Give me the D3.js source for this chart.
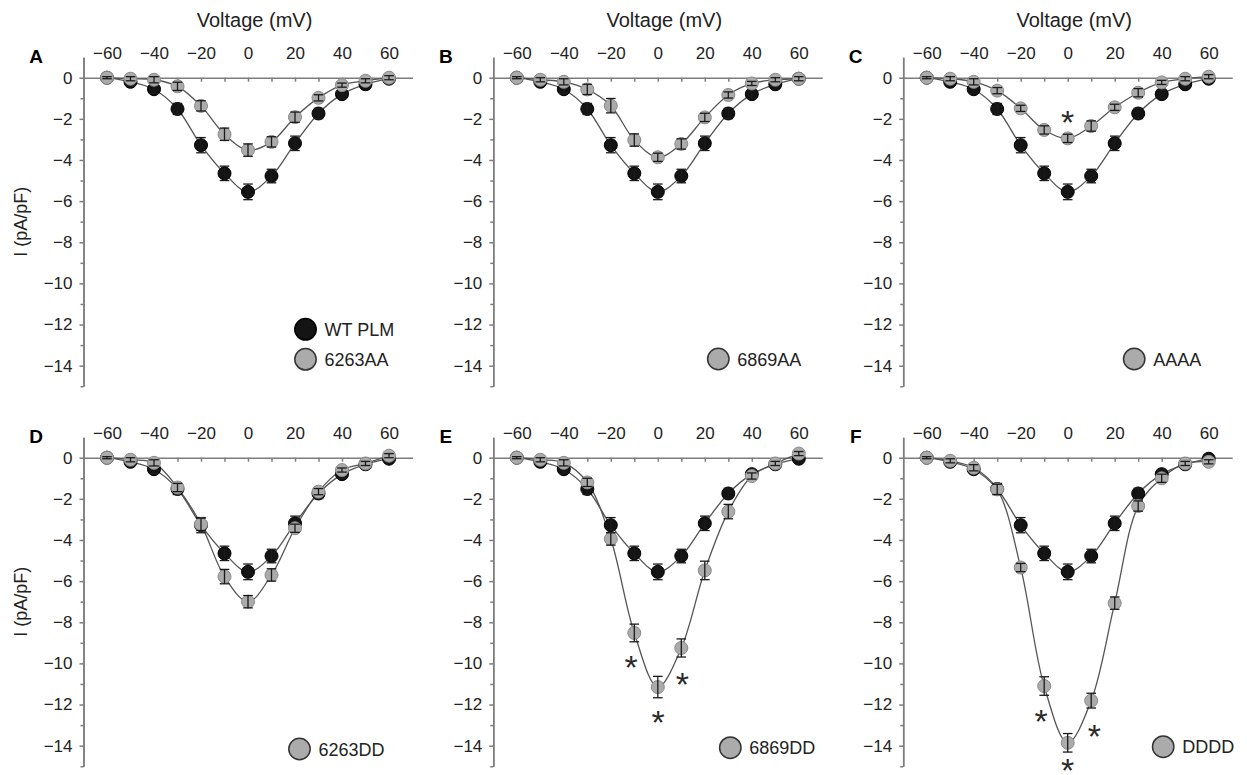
<!DOCTYPE html>
<html>
<head>
<meta charset="utf-8">
<script src="https://cdn.jsdelivr.net/npm/d3@7"></script>
<style>
body{margin:0;background:#fff;}
svg{display:block;font-family:"Liberation Sans",Arial,Helvetica,sans-serif;}
</style>
</head>
<body>
<svg id="chart" width="1247" height="775"></svg>
<script>
// test potentials (mV)
const voltage = [-60,-50,-40,-30,-20,-10,0,10,20,30,40,50,60];

// current density (pA/pF), mean and SEM
const wtPLM  = [0,-0.2,-0.56,-1.52,-3.28,-4.65,-5.55,-4.78,-3.19,-1.74,-0.8,-0.32,-0.05];
const wtErr  = [0.05,0.1,0.2,0.27,0.37,0.35,0.38,0.33,0.35,0.25,0.2,0.1,0.1];

const aa6263 = [0,-0.05,-0.1,-0.42,-1.37,-2.75,-3.52,-3.12,-1.92,-0.98,-0.36,-0.15,0];
const aa6263Err = [0.05,0.1,0.15,0.2,0.25,0.3,0.3,0.25,0.25,0.15,0.1,0.1,0.1];

const aa6869 = [0,-0.1,-0.2,-0.57,-1.36,-3.03,-3.87,-3.22,-1.93,-0.84,-0.28,-0.1,-0.05];
const aa6869Err = [0.05,0.1,0.15,0.25,0.35,0.3,0.2,0.25,0.2,0.15,0.1,0.1,0.1];

const aaaa = [0,-0.05,-0.2,-0.63,-1.49,-2.54,-2.95,-2.35,-1.44,-0.73,-0.23,-0.05,0.05];
const aaaaErr = [0.05,0.1,0.15,0.15,0.15,0.2,0.2,0.25,0.15,0.2,0.1,0.1,0.1];

const dd6263 = [0,-0.1,-0.25,-1.45,-3.24,-5.78,-7.0,-5.7,-3.43,-1.65,-0.6,-0.28,0.1];
const dd6263Err = [0.05,0.1,0.15,0.2,0.3,0.35,0.3,0.3,0.2,0.15,0.1,0.1,0.1];

const dd6869 = [0,-0.1,-0.25,-1.2,-3.95,-8.52,-11.15,-9.25,-5.48,-2.62,-0.89,-0.28,0.2];
const dd6869Err = [0.05,0.1,0.15,0.2,0.3,0.43,0.52,0.44,0.45,0.35,0.15,0.1,0.1];

const dddd = [0,-0.15,-0.49,-1.54,-5.34,-11.1,-13.86,-11.81,-7.07,-2.35,-1.0,-0.28,-0.2];
const ddddErr = [0.05,0.1,0.15,0.25,0.2,0.45,0.45,0.36,0.3,0.25,0.2,0.1,0.1];

// significance marks [mV, pA/pF]
const starsC = [[0,-1.86]];
const starsE = [[-11.4,-9.9],[0.1,-12.55],[10.5,-10.7]];
const starsF = [[-11.3,-12.5],[0,-14.88],[11.4,-13.25]];

const xTicks = [-60,-40,-20,0,20,40,60];
const yTicks = [0,-2,-4,-6,-8,-10,-12,-14];

const panels = [
    {letter:'A', col:0, row:0, name:'6263AA', values:aa6263, err:aa6263Err, stars:[], legend:[222,281.6], wtLegend:true},
    {letter:'B', col:1, row:0, name:'6869AA', values:aa6869, err:aa6869Err, stars:[], legend:[225,281.3]},
    {letter:'C', col:2, row:0, name:'AAAA',   values:aaaa,   err:aaaaErr,   stars:starsC, legend:[231,281.3]},
    {letter:'D', col:0, row:1, name:'6263DD', values:dd6263, err:dd6263Err, stars:[], legend:[216,291.3]},
    {letter:'E', col:1, row:1, name:'6869DD', values:dd6869, err:dd6869Err, stars:starsE, legend:[237,290]},
    {letter:'F', col:2, row:1, name:'DDDD',   values:dddd,   err:ddddErr,   stars:starsF, legend:[260,289]}
];

const svg = d3.select('#chart');
const colX = [83.5, 493.3, 903.2];
const rowZero = [77.7, 457.7];
const pxPerMV = 2.35, pxPerUnit = 20.57;
const axisColor = '#7d7d7d';

function drawPanel(p){
    const left = colX[p.col];
    const y0 = rowZero[p.row];
    const x = d3.scaleLinear().domain([-70,70]).range([left, left + 140*pxPerMV]);
    const y = d3.scaleLinear().domain([1,-15]).range([y0 - pxPerUnit, y0 + 15*pxPerUnit]);
    const g = svg.append('g');

    // y axis, major + minor
    g.append('g').attr('transform', `translate(${left},0)`)
        .call(d3.axisLeft(y).tickValues(d3.range(-15,0,2)).tickSize(3).tickSizeOuter(0).tickFormat(''));
    g.append('g').attr('transform', `translate(${left},0)`)
        .call(d3.axisLeft(y).tickValues(yTicks).tickSize(4).tickSizeOuter(0).tickPadding(7))
        .call(a => a.selectAll('text').attr('font-size', 17).attr('fill', '#222'));

    // x axis through zero: marks below, labels above
    g.append('g').attr('transform', `translate(0,${y(0)})`)
        .call(d3.axisBottom(x).tickValues(d3.range(-60,61,10)).tickSize(4).tickSizeOuter(0).tickFormat(''));
    g.append('g').attr('transform', `translate(0,${y(0)})`)
        .call(d3.axisTop(x).tickValues(xTicks).tickSize(0).tickPadding(19))
        .call(a => a.select('.domain').remove())
        .call(a => a.selectAll('text').attr('font-size', 17).attr('fill', '#222'));

    g.selectAll('.domain, .tick line').attr('stroke', axisColor).attr('stroke-width', 1.5);

    g.append('text').attr('x', left - 47.5).attr('y', y0 - 15)
        .attr('text-anchor', 'middle').attr('font-size', 19).attr('font-weight', 'bold').text(p.letter);

    if(p.row === 0){
        g.append('text').attr('x', left + 171).attr('y', 27)
            .attr('text-anchor', 'middle').attr('font-size', 20).attr('fill', '#222').text('Voltage (mV)');
    }
    if(p.col === 0){
        const cy = (y(1) + y(-15)) / 2;
        g.append('text').attr('transform', `translate(27,${cy}) rotate(-90)`)
            .attr('text-anchor', 'middle').attr('font-size', 18).attr('fill', '#222').text('I (pA/pF)');
    }

    const line = d3.line().x((d,i) => x(voltage[i])).y(d => y(d)).curve(d3.curveCatmullRom.alpha(0.5));
    const series = [
        {values:wtPLM, err:wtErr, fill:'#141414', stroke:'#000'},
        {values:p.values, err:p.err, fill:'#ababab', stroke:'#8a8a8a'}
    ];

    series.forEach(s => {
        g.append('path').datum(s.values).attr('d', line)
            .attr('fill', 'none').attr('stroke', '#555').attr('stroke-width', 1.3);
    });

    series.forEach(s => {
        const pts = s.values.map((v,i) => ({mv:voltage[i], v:v, e:s.err[i]}));
        g.append('g').selectAll('circle').data(pts).enter().append('circle')
            .attr('cx', d => x(d.mv)).attr('cy', d => y(d.v)).attr('r', 6.5)
            .attr('fill', s.fill).attr('stroke', s.stroke).attr('stroke-width', 1);
        const eb = g.append('g').attr('stroke', '#1a1a1a').attr('stroke-width', 1.3);
        eb.selectAll('.v').data(pts).enter().append('line')
            .attr('x1', d => x(d.mv)).attr('x2', d => x(d.mv))
            .attr('y1', d => y(d.v + d.e)).attr('y2', d => y(d.v - d.e));
        [1,-1].forEach(sign => {
            eb.selectAll('.c' + sign).data(pts).enter().append('line')
                .attr('x1', d => x(d.mv) - 4.8).attr('x2', d => x(d.mv) + 4.8)
                .attr('y1', d => y(d.v + sign*d.e)).attr('y2', d => y(d.v + sign*d.e));
        });
    });

    g.selectAll('.star').data(p.stars).enter().append('text')
        .attr('x', d => x(d[0])).attr('y', d => y(d[1]) + 18)
        .attr('text-anchor', 'middle').attr('font-size', 34).attr('fill', '#2a2a2a').text('*');

    // legend
    const legend = [];
    if(p.wtLegend) legend.push({label:'WT PLM', fill:'#141414', stroke:'#000'});
    legend.push({label:p.name, fill:'#ababab', stroke:'#333'});
    const lx = left + p.legend[0];
    const ly = y0 + p.legend[1] - (legend.length - 1)*30;
    legend.forEach((d,i) => {
        g.append('circle').attr('cx', lx).attr('cy', ly + i*30).attr('r', 10.7)
            .attr('fill', d.fill).attr('stroke', d.stroke).attr('stroke-width', 1.5);
        g.append('text').attr('x', lx + 19).attr('y', ly + i*30 + 6.5)
            .attr('font-size', 18).attr('fill', '#222').text(d.label);
    });
}

panels.forEach(drawPanel);
</script>
</body>
</html>
